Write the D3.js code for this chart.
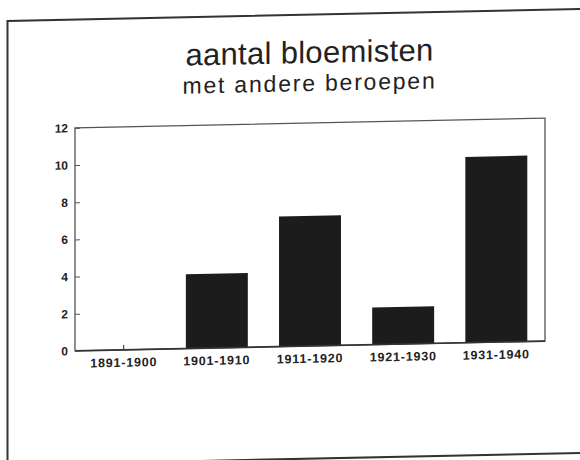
<!DOCTYPE html>
<html>
<head>
<meta charset="utf-8">
<script src="https://cdn.jsdelivr.net/npm/d3@7"></script>
<style>
  html, body { margin: 0; padding: 0; background: #fff; }
  svg { display: block; }
</style>
</head>
<body>
<svg id="chart" width="580" height="460"></svg>
<script>
// ---- data ----
const categories = ["1891-1900", "1901-1910", "1911-1920", "1921-1930", "1931-1940"];
const values = [0, 4, 7, 2, 10];
const yTicks = [0, 2, 4, 6, 8, 10, 12];
const titleText = "aantal bloemisten";
const subtitleText = "met andere beroepen";

// ---- layout ----
const W = 580, H = 460;
const plot = { left: 75, right: 545, top: 123, bottom: 346 };
const ink = "#222";
const font = "'Liberation Sans', Arial, Helvetica, sans-serif";

const svg = d3.select("#chart");
svg.append("rect").attr("width", W).attr("height", H).attr("fill", "#fff");

// slight skew of the scanned page
const g = svg.append("g")
  .attr("transform", `translate(0, ${310 * Math.tan(1.2 * Math.PI / 180)}) skewY(-1.2)`);

// outer frame
g.append("rect")
  .attr("x", 7.5).attr("y", 14.7)
  .attr("width", 590).attr("height", 444)
  .attr("fill", "none").attr("stroke", "#333").attr("stroke-width", 2);

// titles
g.append("text")
  .attr("x", 309.5).attr("y", 63)
  .attr("text-anchor", "middle")
  .attr("font-family", font).attr("font-size", 31)
  .attr("letter-spacing", 0.3)
  .attr("fill", ink)
  .text(titleText);

g.append("text")
  .attr("x", 309.5).attr("y", 91)
  .attr("text-anchor", "middle")
  .attr("font-family", font).attr("font-size", 23)
  .attr("letter-spacing", 1.8)
  .attr("fill", ink)
  .text(subtitleText);

// scales
const x = d3.scaleBand()
  .domain(categories)
  .range([plot.left, plot.right])
  .paddingInner(0.335)
  .paddingOuter(0.19);

const y = d3.scaleLinear()
  .domain([0, 12])
  .range([plot.bottom, plot.top]);

// plot box
g.append("rect")
  .attr("x", plot.left).attr("y", plot.top)
  .attr("width", plot.right - plot.left)
  .attr("height", plot.bottom - plot.top)
  .attr("fill", "none").attr("stroke", "#555").attr("stroke-width", 1.3);

// bars
g.append("g").selectAll("rect")
  .data(values.map((v, i) => ({ c: categories[i], v })))
  .join("rect")
  .attr("x", d => x(d.c))
  .attr("y", d => y(d.v))
  .attr("width", x.bandwidth())
  .attr("height", d => y(0) - y(d.v))
  .attr("fill", "#1c1c1c");

// tiny marker for zero-value bars
g.append("g").selectAll("line")
  .data(values.map((v, i) => ({ c: categories[i], v })).filter(d => d.v === 0))
  .join("line")
  .attr("x1", d => x(d.c) + x.bandwidth() / 2)
  .attr("x2", d => x(d.c) + x.bandwidth() / 2)
  .attr("y1", y(0)).attr("y2", y(0) - 5)
  .attr("stroke", "#444").attr("stroke-width", 1.2);

// baseline
g.append("line")
  .attr("x1", plot.left).attr("x2", plot.right)
  .attr("y1", y(0)).attr("y2", y(0))
  .attr("stroke", "#333").attr("stroke-width", 1.6);

// y axis
const yAxis = d3.axisLeft(y)
  .tickValues(yTicks)
  .tickSize(-5)
  .tickPadding(7)
  .tickFormat(d3.format("d"));

const ya = g.append("g")
  .attr("transform", `translate(${plot.left},0)`)
  .call(yAxis);
ya.select(".domain").remove();
ya.selectAll(".tick line").attr("stroke", "#555").attr("stroke-width", 1);
ya.selectAll(".tick text")
  .attr("font-family", font).attr("font-size", 12)
  .attr("font-weight", "bold").attr("fill", ink);

// x axis labels
const xAxis = d3.axisBottom(x).tickSize(0).tickPadding(8);
const xa = g.append("g")
  .attr("transform", `translate(0,${plot.bottom})`)
  .call(xAxis);
xa.select(".domain").remove();
xa.selectAll(".tick text")
  .attr("font-family", font).attr("font-size", 12.5)
  .attr("font-weight", "bold").attr("letter-spacing", 0.8)
  .attr("fill", ink);
</script>
</body>
</html>
